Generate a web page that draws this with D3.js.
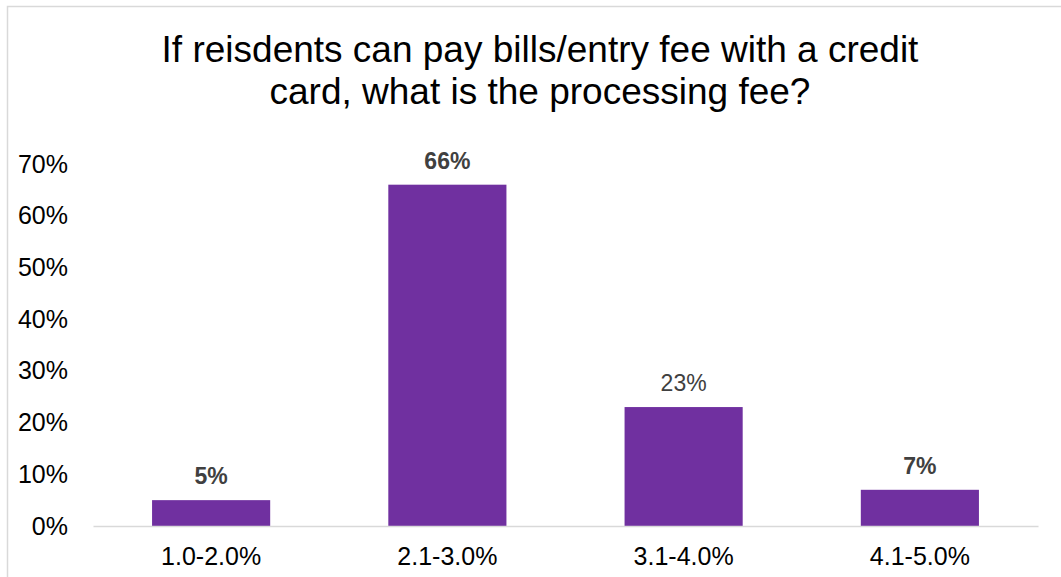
<!DOCTYPE html>
<html>
<head>
<meta charset="utf-8">
<script src="https://cdn.jsdelivr.net/npm/d3@7"></script>
<style>
  html, body { margin: 0; padding: 0; background: #fff; }
  svg { display: block; font-family: Arial, "Liberation Sans", sans-serif; }
</style>
</head>
<body>
<svg id="chart" width="1061" height="577"></svg>
<script>
// Processing fee ranges and share of respondents
const categories = ["1.0-2.0%", "2.1-3.0%", "3.1-4.0%", "4.1-5.0%"];
const shares = [5, 66, 23, 7];
const boldLabel = [true, true, false, true];
const yTicks = [0, 10, 20, 30, 40, 50, 60, 70];
const titleLines = ["If reisdents can pay bills/entry fee with a credit", "card, what is the processing fee?"];

const svg = d3.select("#chart");

// chart frame
svg.append("rect")
  .attr("x", 7.5).attr("y", 6.5)
  .attr("width", 1070).attr("height", 590)
  .attr("fill", "none").attr("stroke", "#d9d9d9").attr("stroke-width", 1.5);

// title
svg.append("text")
  .attr("text-anchor", "middle")
  .attr("font-size", 37)
  .attr("fill", "#000")
  .selectAll("tspan")
  .data(titleLines)
  .join("tspan")
  .attr("x", 540)
  .attr("y", (d, i) => 62 + i * 41.5)
  .text(d => d);

const x = d3.scaleBand()
  .domain(categories)
  .range([93, 1038])
  .paddingInner(0.5)
  .paddingOuter(0.25);

const y = d3.scaleLinear()
  .domain([0, 70])
  .range([526, 164]);

// y axis labels (no axis line)
const yAxis = d3.axisLeft(y)
  .tickValues(yTicks)
  .tickFormat(d => d + "%")
  .tickSize(0)
  .tickPadding(0);

svg.append("g")
  .attr("transform", "translate(68,0)")
  .call(yAxis)
  .call(g => g.select(".domain").remove())
  .call(g => g.selectAll("text")
    .attr("font-size", 25)
    .attr("font-family", "Arial, 'Liberation Sans', sans-serif")
    .attr("fill", "#000"));

// bars
svg.append("g")
  .selectAll("rect")
  .data(categories)
  .join("rect")
  .attr("x", d => x(d))
  .attr("width", x.bandwidth())
  .attr("y", (d, i) => y(shares[i]))
  .attr("height", (d, i) => y(0) - y(shares[i]))
  .attr("fill", "#7030a0");

// x axis baseline and category labels
const xAxis = d3.axisBottom(x).tickSize(0).tickPadding(0);
svg.append("g")
  .attr("transform", `translate(0,${y(0)})`)
  .call(xAxis)
  .call(g => g.select(".domain")
    .attr("stroke", "#d9d9d9").attr("stroke-width", 1.5))
  .call(g => g.selectAll("text")
    .attr("dy", null)
    .attr("y", 39)
    .attr("font-size", 25)
    .attr("font-family", "Arial, 'Liberation Sans', sans-serif")
    .attr("fill", "#000"));

// value labels
svg.append("g")
  .selectAll("text")
  .data(categories)
  .join("text")
  .attr("x", d => x(d) + x.bandwidth() / 2)
  .attr("y", (d, i) => y(shares[i]) - 16)
  .attr("text-anchor", "middle")
  .attr("font-size", 23)
  .attr("font-weight", (d, i) => boldLabel[i] ? "bold" : "normal")
  .attr("fill", "#404040")
  .text((d, i) => shares[i] + "%");
</script>
</body>
</html>
